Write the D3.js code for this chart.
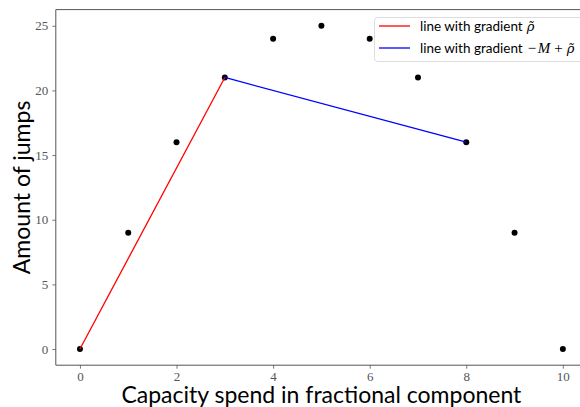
<!DOCTYPE html>
<html>
<head>
<meta charset="utf-8">
<script src="https://cdn.jsdelivr.net/npm/d3@7"></script>
<style>
html,body{margin:0;padding:0;background:#fff;overflow:hidden;}
svg{display:block;}
</style>
</head>
<body>
<svg id="chart" width="580" height="407"></svg>
<script>
const xValues = [0, 1, 2, 3, 4, 5, 6, 7, 8, 9, 10];
const yValues = [0, 9, 16, 21, 24, 25, 24, 21, 16, 9, 0];
const redLine = [[0, 0], [3, 21]];
const blueLine = [[3, 21], [8, 16]];
const xTicks = [0, 2, 4, 6, 8, 10];
const yTicks = [0, 5, 10, 15, 20, 25];
const xLabel = "Capacity spend in fractional component";
const yLabel = "Amount of jumps";

const svg = d3.select("#chart");
const L = 55.8, R = 587, T = 9.6, B = 365.2;
const x = d3.scaleLinear().domain([-0.5, 10.5]).range([L, R]);
const y = d3.scaleLinear().domain([-1.25, 26.25]).range([B, T]);

const tickFont = "'Liberation Serif','DejaVu Serif',serif";
const rhoFont = "'DejaVu Serif',serif";
const sansFont = "Lato, 'Open Sans', sans-serif";

// axes
const xAxis = svg.append("g").attr("transform", `translate(0,${B})`)
  .call(d3.axisBottom(x).tickValues(xTicks).tickSize(3.5).tickPadding(3).tickFormat(d3.format("d")));
const yAxis = svg.append("g").attr("transform", `translate(${L},0)`)
  .call(d3.axisLeft(y).tickValues(yTicks).tickSize(3.5).tickPadding(4).tickFormat(d3.format("d")));
[xAxis, yAxis].forEach(a => {
  a.select(".domain").remove();
  a.selectAll(".tick line").attr("stroke", "#555").attr("stroke-width", 0.8);
  a.selectAll(".tick text").attr("fill", "#555").style("font-family", tickFont).style("font-size", "13px");
});
// spines
svg.append("line").attr("x1", L).attr("x2", R).attr("y1", T).attr("y2", T).attr("stroke", "#555").attr("stroke-width", 1);
svg.append("line").attr("x1", L).attr("x2", R).attr("y1", B).attr("y2", B).attr("stroke", "#555").attr("stroke-width", 1);
svg.append("line").attr("x1", L).attr("x2", L).attr("y1", T).attr("y2", B).attr("stroke", "#555").attr("stroke-width", 1);

// points
svg.append("g").selectAll("circle").data(xValues).join("circle")
  .attr("cx", (d) => x(d)).attr("cy", (d, i) => y(yValues[i])).attr("r", 3).attr("fill", "#000");

const line = d3.line().x(d => x(d[0])).y(d => y(d[1]));
svg.append("path").attr("d", line(redLine)).attr("fill", "none").attr("stroke", "#ff0000").attr("stroke-width", 1.3);
svg.append("path").attr("d", line(blueLine)).attr("fill", "none").attr("stroke", "#0000ff").attr("stroke-width", 1.3);

// legend
const lg = svg.append("g");
lg.append("rect").attr("x", 374.5).attr("y", 17.5).attr("width", 220).attr("height", 44).attr("rx", 3)
  .attr("fill", "#fff").attr("fill-opacity", 0.8).attr("stroke", "#ddd").attr("stroke-width", 1);
const legendItems = [
  {color: "#ff0000", text: "line with gradient", math: [["ρ̃", "italic", rhoFont, 4]]},
  {color: "#0000ff", text: "line with gradient", math: [["−", "normal", tickFont, 5], ["M", "italic", tickFont, 1.5], ["+", "normal", tickFont, 4], ["ρ̃", "italic", rhoFont, 4]]}
];
legendItems.forEach((it, i) => {
  const yy = 26 + i * 22;
  lg.append("line").attr("x1", 379).attr("x2", 410).attr("y1", yy).attr("y2", yy).attr("stroke", it.color).attr("stroke-width", 1.3);
  const t = lg.append("text").attr("x", 420).attr("y", yy + 5).style("font-family", sansFont).style("font-size", "13.5px").attr("fill", "#000");
  t.append("tspan").text(it.text);
  it.math.forEach(m => t.append("tspan").attr("dx", m[3]).style("font-family", m[2]).style("font-size", m[2] === rhoFont ? "13px" : "15px").style("font-style", m[1]).text(m[0]));
});

// axis labels
svg.append("text").attr("x", (L + R) / 2).attr("y", 403).attr("text-anchor", "middle")
  .style("font-family", sansFont).style("font-size", "23px").text(xLabel);
svg.append("text").attr("transform", `translate(30,${(T + B) / 2}) rotate(-90)`).attr("text-anchor", "middle")
  .style("font-family", sansFont).style("font-size", "23px").text(yLabel);
</script>
</body>
</html>
